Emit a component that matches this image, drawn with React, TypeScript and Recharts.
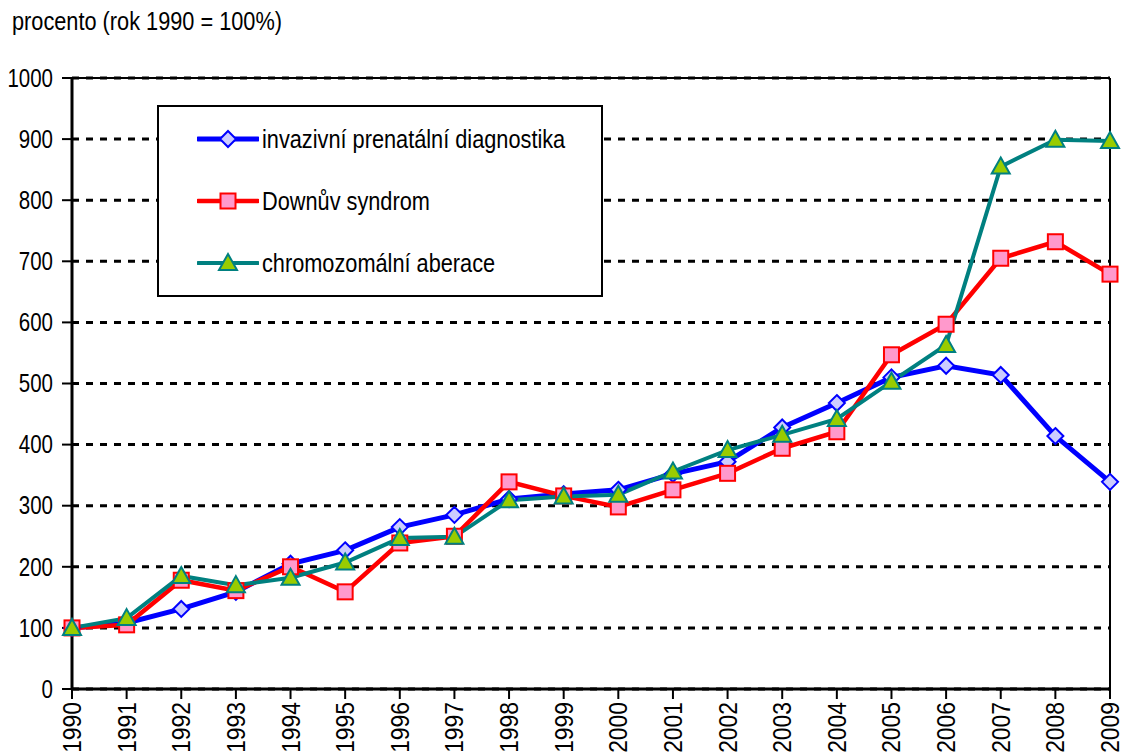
import React from "react";
import {
  LineChart, Line, XAxis, YAxis, CartesianGrid, Legend, ReferenceLine,
} from "recharts";

const years = [
  "1990", "1991", "1992", "1993", "1994", "1995", "1996", "1997", "1998", "1999",
  "2000", "2001", "2002", "2003", "2004", "2005", "2006", "2007", "2008", "2009",
];

const invazivni = [100, 108, 131, 159, 205, 227, 265, 285, 311, 319, 326, 352, 372, 428, 468, 510, 529, 514, 414, 339];
const downuv = [100, 105, 178, 161, 200, 159, 239, 250, 339, 316, 298, 326, 353, 394, 421, 547, 597, 705, 732, 679];
const chromo = [100, 116, 185, 170, 182, 207, 247, 249, 309, 315, 318, 356, 391, 416, 442, 503, 563, 855, 899, 897];

const yTicks = [0, 100, 200, 300, 400, 500, 600, 700, 800, 900, 1000];

const data = years.map((year, i) => ({
  year,
  inv: invazivni[i],
  down: downuv[i],
  chrom: chromo[i],
}));

const FONT = "'Liberation Sans', Arial, sans-serif";
const SQUEEZE = 0.82;

const BLUE = "#0000ff";
const RED = "#ff0000";
const TEAL = "#008080";

function DiamondMark({ cx, cy }: any) {
  const r = 8;
  return (
    <polygon
      points={`${cx},${cy - r} ${cx + r},${cy} ${cx},${cy + r} ${cx - r},${cy}`}
      fill="#ccccff"
      stroke={BLUE}
      strokeWidth={2}
    />
  );
}

function SquareMark({ cx, cy }: any) {
  const r = 7.5;
  return (
    <rect x={cx - r} y={cy - r} width={r * 2} height={r * 2} fill="#ff99cc" stroke={RED} strokeWidth={2} />
  );
}

function TriangleMark({ cx, cy }: any) {
  return (
    <polygon
      points={`${cx},${cy - 9} ${cx + 9},${cy + 7} ${cx - 9},${cy + 7}`}
      fill="#99cc00"
      stroke={TEAL}
      strokeWidth={2}
    />
  );
}

const YTick = ({ x, y, payload }: any) => (
  <g transform={`translate(${x},${y}) scale(${SQUEEZE},1)`}>
    <text textAnchor="end" dominantBaseline="central" fontSize={25} fontFamily={FONT} fill="#000">
      {payload.value}
    </text>
  </g>
);

const XTick = ({ x, y, payload }: any) => (
  <g transform={`translate(${x},${y}) rotate(-90) scale(0.88,1)`}>
    <text textAnchor="end" dominantBaseline="central" fontSize={26} fontFamily={FONT} fill="#000">
      {payload.value}
    </text>
  </g>
);

const legendItems = [
  { label: "invazivní prenatální diagnostika", color: BLUE, width: 5, Mark: DiamondMark },
  { label: "Downův syndrom", color: RED, width: 4.5, Mark: SquareMark },
  { label: "chromozomální aberace", color: TEAL, width: 4, Mark: TriangleMark },
];

const renderLegend = () => (
  <div
    style={{
      width: 446,
      height: 192,
      border: "2px solid #000",
      boxSizing: "border-box",
      background: "#fff",
      position: "relative",
    }}
  >
    {legendItems.map((it, i) => (
      <div key={i} style={{ position: "absolute", left: 38, top: 12 + i * 62, height: 40, display: "flex", alignItems: "center" }}>
        <svg width={62} height={24} style={{ display: "block" }}>
          <line x1={1} y1={12} x2={61} y2={12} stroke={it.color} strokeWidth={it.width} strokeLinecap="round" />
          <it.Mark cx={31} cy={12} />
        </svg>
        <span
          style={{
            display: "inline-block",
            marginLeft: 3,
            fontFamily: FONT,
            fontSize: 26.5,
            whiteSpace: "nowrap",
            transform: `scaleX(${SQUEEZE})`,
            transformOrigin: "left center",
          }}
        >
          {it.label}
        </span>
      </div>
    ))}
  </div>
);

export default function App() {
  return (
    <div style={{ position: "absolute", left: 0, top: 0, width: 1123, height: 755, background: "#fff", overflow: "hidden" }}>
      <div
        style={{
          position: "absolute",
          left: 12,
          top: 6,
          fontFamily: FONT,
          fontSize: 26.5,
          whiteSpace: "nowrap",
          transform: `scaleX(${SQUEEZE})`,
          transformOrigin: "left top",
          zIndex: 2,
        }}
      >
        procento (rok 1990 = 100%)
      </div>
      <LineChart width={1123} height={755} data={data} margin={{ top: 78, right: 13, left: 0, bottom: 0 }}>
        <CartesianGrid vertical={false} stroke="#000" strokeWidth={3} strokeDasharray="7 7" />
        <XAxis
          dataKey="year"
          height={66}
          interval={0}
          tickSize={10}
          tickMargin={3}
          tick={<XTick />}
          axisLine={{ stroke: "#000", strokeWidth: 3 }}
          tickLine={{ stroke: "#000", strokeWidth: 2 }}
        />
        <YAxis
          width={72}
          domain={[0, 1000]}
          ticks={yTicks}
          interval={0}
          tickSize={10}
          tickMargin={9}
          tick={<YTick />}
          axisLine={{ stroke: "#000", strokeWidth: 3 }}
          tickLine={{ stroke: "#000", strokeWidth: 2 }}
        />
        <ReferenceLine y={1000} stroke="#000" strokeWidth={2} />
        <ReferenceLine x="2009" stroke="#000" strokeWidth={2} />
        <Legend
          layout="horizontal"
          verticalAlign="middle"
          align="center"
          content={renderLegend}
          wrapperStyle={{ left: 157, top: 105, width: 446, height: 192 }}
        />
        <Line
          dataKey="inv"
          stroke={BLUE}
          strokeWidth={5}
          isAnimationActive={false}
          dot={(p: any) => <DiamondMark key={p.index} cx={p.cx} cy={p.cy} />}
        />
        <Line
          dataKey="down"
          stroke={RED}
          strokeWidth={4.5}
          isAnimationActive={false}
          dot={(p: any) => <SquareMark key={p.index} cx={p.cx} cy={p.cy} />}
        />
        <Line
          dataKey="chrom"
          stroke={TEAL}
          strokeWidth={4}
          isAnimationActive={false}
          dot={(p: any) => <TriangleMark key={p.index} cx={p.cx} cy={p.cy} />}
        />
      </LineChart>
    </div>
  );
}
